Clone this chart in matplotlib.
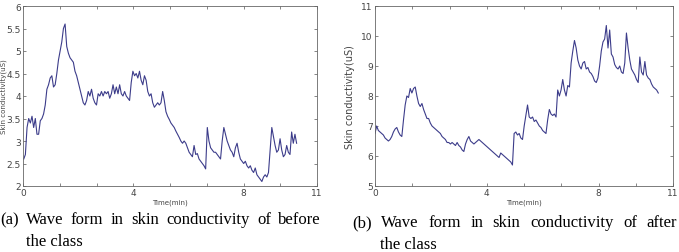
import numpy as np
import matplotlib.pyplot as plt

# skin conductivity (uS), sampled every ~0.045 axis divisions
before = [2.6, 2.7, 3.3, 3.5, 3.4, 3.55, 3.3, 3.5, 3.15, 3.15, 3.45, 3.5, 3.6, 3.8,
          4.15, 4.25, 4.4, 4.45, 4.2, 4.25, 4.5, 4.8, 5.0, 5.2, 5.5, 5.6, 5.1, 4.95,
          4.85, 4.8, 4.75, 4.55, 4.45, 4.3, 4.15, 4.0, 3.85, 3.8, 3.9, 4.1, 4.0, 4.15,
          3.95, 3.85, 3.8, 4.05, 4.0, 4.1, 4.0, 4.1, 4.05, 4.1, 3.95, 4.05, 4.25, 4.05,
          4.2, 4.05, 4.25, 4.05, 4.0, 4.1, 4.0, 3.95, 3.9, 4.3, 4.55, 4.45, 4.5, 4.4,
          4.55, 4.35, 4.25, 4.45, 4.35, 4.1, 4.0, 4.05, 3.85, 3.75, 3.8, 3.85, 3.8,
          3.85, 4.1, 3.9, 3.65, 3.55, 3.48, 3.4, 3.35, 3.3, 3.22, 3.15, 3.08, 3.0, 2.95,
          3.0, 2.95, 2.85, 2.75, 2.7, 2.65, 2.9, 2.7, 2.72, 2.6, 2.55, 2.5, 2.45, 2.38,
          3.3, 3.0, 2.85, 2.8, 2.75, 2.75, 2.7, 2.65, 2.6, 3.0, 3.3, 3.15, 3.0, 2.9,
          2.8, 2.75, 2.65, 2.85, 2.95, 2.75, 2.6, 2.55, 2.5, 2.55, 2.45, 2.4, 2.45,
          2.35, 2.3, 2.4, 2.25, 2.2, 2.15, 2.1, 2.2, 2.25, 2.2, 2.3, 2.8, 3.3, 3.1,
          2.9, 2.75, 2.8, 3.05, 2.8, 2.65, 2.7, 2.9, 2.75, 2.7, 3.2, 2.95, 3.15, 2.95]

after = [6.75, 7.0, 6.85, 6.8, 6.75, 6.7, 6.6, 6.55, 6.5, 6.55, 6.65, 6.8, 6.9, 6.95,
         6.8, 6.7, 6.65, 7.2, 7.7, 8.0, 7.95, 8.25, 8.1, 8.25, 8.3, 8.0, 7.75, 7.65,
         7.75, 7.55, 7.4, 7.25, 7.25, 7.1, 7.0, 6.95, 6.9, 6.85, 6.8, 6.75, 6.65, 6.6,
         6.55, 6.45, 6.45, 6.4, 6.45, 6.4, 6.35, 6.45, 6.35, 6.3, 6.2, 6.15, 6.4, 6.55,
         6.65, 6.5, 6.45, 6.4, 6.45, 6.5, 6.55, 6.5, 6.45, 6.4, 6.35, 6.3, 6.25, 6.2,
         6.15, 6.1, 6.05, 6.0, 5.95, 6.1, 6.05, 6.0, 5.95, 5.9, 5.85, 5.8, 5.7, 6.75,
         6.8, 6.7, 6.75, 6.6, 6.55, 7.0, 7.35, 7.7, 7.3, 7.25, 7.3, 7.15, 7.2, 7.1,
         7.0, 6.95, 6.85, 6.8, 6.75, 7.2, 7.55, 7.4, 7.35, 7.4, 7.3, 8.2, 8.0, 8.2,
         8.55, 8.2, 8.0, 8.35, 8.3, 9.1, 9.5, 9.85, 9.6, 9.2, 9.0, 8.9, 9.1, 9.15,
         8.9, 8.95, 8.8, 8.75, 8.65, 8.5, 8.45, 8.6, 9.0, 9.5, 9.8, 9.9, 10.35, 9.6,
         10.2, 9.4, 9.3, 9.05, 8.95, 8.9, 9.0, 8.8, 8.75, 9.1, 10.1, 9.6, 9.2, 8.9,
         8.8, 8.7, 8.55, 8.45, 9.3, 8.8, 8.7, 9.15, 8.7, 8.6, 8.55, 8.4, 8.3, 8.25,
         8.2, 8.1]

dt = 0.045
t_before = 0.02 + dt * np.arange(len(before))
t_after = dt * np.arange(len(after))

xtick_pos = np.arange(0, 9)
xtick_lab = ['0', '', '', '4', '', '', '8', '', '11']

cap_a = ['(a) Wave form in skin conductivity of before', 'the class']
cap_b = ['(b) Wave form in skin conductivity of after', 'the class']

W, H = 679, 253
fig = plt.figure(figsize=(W / 100, H / 100), dpi=100)
ax1 = fig.add_axes([23 / W, 1 - 187 / H, 294 / W, 180 / H])
ax2 = fig.add_axes([375 / W, 1 - 187 / H, 298 / W, 180 / H])

line_col = '#3c3c8a'
ax1.plot(t_before, before, color=line_col, lw=0.8)
ax2.plot(t_after, after, color=line_col, lw=0.8)

ax1.set_ylim(2, 6)
ax1.set_yticks(np.arange(2, 6.01, 0.5))
ax1.set_yticklabels(['2', '2.5', '3', '3.5', '4', '4.5', '5', '5.5', '6'])
ax2.set_ylim(5, 11)
ax2.set_yticks(np.arange(5, 12, 1))

for ax in (ax1, ax2):
    ax.set_xlim(0, 8)
    ax.set_xticks(xtick_pos)
    ax.set_xticklabels(xtick_lab)
    ax.tick_params(direction='in', length=2.5, width=0.5, labelsize=6.5,
                   top=True, right=True, pad=1.5, colors='#555555', labelcolor='#444444')
    for s in ax.spines.values():
        s.set_linewidth(0.6)
        s.set_color('#666666')
    ax.set_xlabel('Time(min)', fontsize=5, color='#444444', labelpad=1)

ax1.set_ylabel('Skin conductivity(uS)', fontsize=5, color='#444444')
ax1.yaxis.set_label_coords(-0.056, 0.5)
ax2.set_ylabel('Skin conductivity(uS)', fontsize=7, color='#444444')
ax2.yaxis.set_label_coords(-0.068, 0.5)


def justified(x0, x1, y, words, size):
    # place words so the line fills x0..x1 (pixels), like a justified caption
    r = fig.canvas.get_renderer()
    items = [fig.text(0, 1 - y / H, w, fontsize=size, family='Liberation Serif',
                      va='center', ha='left') for w in words]
    widths = [t.get_window_extent(r).width for t in items]
    gap = (x1 - x0 - sum(widths)) / (len(words) - 1)
    x = x0
    for t, w in zip(items, widths):
        t.set_x(x / W)
        x += w + gap


justified(0, 321, 220, cap_a[0].split(' '), 12)
fig.text(26 / W, 1 - 242 / H, cap_a[1], fontsize=12, family='Liberation Serif',
         va='center', ha='left')
justified(352, 677, 223, cap_b[0].split(' '), 12)
fig.text(380 / W, 1 - 245 / H, cap_b[1], fontsize=12, family='Liberation Serif',
         va='center', ha='left')

fig.savefig('out.png', dpi=100)
